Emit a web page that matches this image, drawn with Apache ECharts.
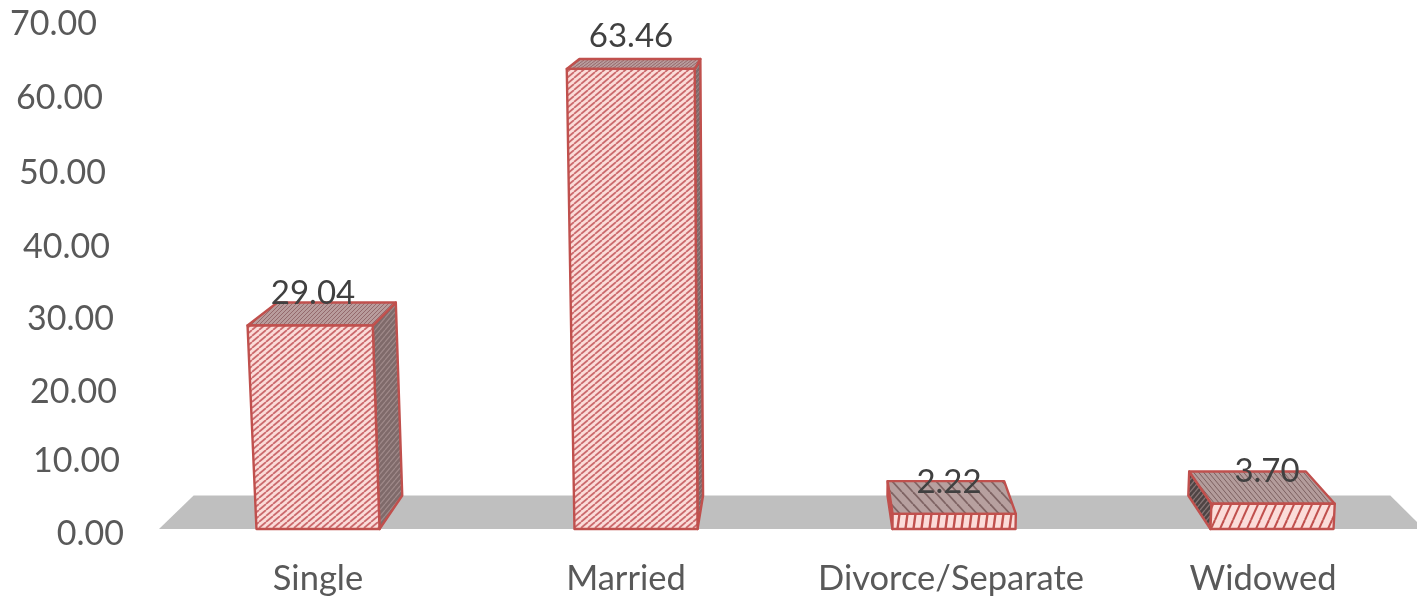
<!DOCTYPE html>
<html><head><meta charset="utf-8">
<style>html,body{margin:0;padding:0;background:#fff}#c{width:1417px;height:596px}</style>
<script src="https://cdn.jsdelivr.net/npm/echarts@6/dist/echarts.min.js"></script>
</head><body><div id="c"></div>
<script>
const categories = ['Single', 'Married', 'Divorce/Separate', 'Widowed'];
const values = [29.04, 63.46, 2.22, 3.70];
const yTicks = [0, 10, 20, 30, 40, 50, 60, 70];

const font = 'Lato, "Open Sans", sans-serif';
const RED = '#c0504d';
const depthVP = [800, -122], depthTx = 0.054, depthTy = 0.0515;
const riseVPx = 770, riseD = 11700;
const yShift = {0:0, 10:4, 20:7, 30:10, 40:14, 50:18, 60:21, 70:27};
const yDrop = {0:2, 10:2, 20:5, 30:5, 40:5, 50:4, 60:1, 70:0};
const catShift = [0, 20, 6, 18];

function tile(w, h, bg, fg, lw, back) {
  const c = document.createElement('canvas');
  c.width = w; c.height = h;
  const g = c.getContext('2d');
  g.fillStyle = bg; g.fillRect(0, 0, w, h);
  g.strokeStyle = fg; g.lineWidth = lw;
  for (let k = -2; k <= 2; k++) {
    g.beginPath();
    if (back) { g.moveTo(k * w, 0); g.lineTo((k + 1) * w, h); }
    else { g.moveTo(k * w, h); g.lineTo((k + 1) * w, 0); }
    g.stroke();
  }
  return {image: c, repeat: 'repeat'};
}
const P_LIGHT = '#fbdcd9', P_LINE = '#cb6a6d';
const facePatterns = [
  {front: tile(7, 6, P_LIGHT, P_LINE, 1.8), top: tile(4, 4, '#b89c9c', '#94696c', 1), side: tile(5, 6, '#7f6a6a', '#a08a8a', 1.2)},
  {front: tile(7, 6, P_LIGHT, P_LINE, 1.8), top: tile(4, 3, '#b89c9c', '#94696c', 1), side: tile(4, 5, '#7f6a6a', '#a08a8a', 1)},
  {front: tile(8, 60, P_LIGHT, RED, 2.4), top: tile(11, 12, '#b7a09f', '#7f6464', 1.8, true), side: tile(3, 8, '#6f5c5c', '#a08a8a', 1)},
  {front: tile(9, 20, P_LIGHT, RED, 2), top: tile(5, 6, '#b39c9b', '#7d6060', 1, true), side: tile(5, 6, '#4f4444', '#857575', 1.4)}
];

function toDepth(p) {
  return [p[0] + (depthVP[0] - p[0]) * depthTx, p[1] + (depthVP[1] - p[1]) * depthTy];
}
function face(points, fill) {
  return {type: 'polygon', shape: {points}, style: {fill, stroke: RED, lineWidth: 2.4, lineJoin: 'round'}};
}

function renderBar(params, api) {
  const i = api.value(0), v = api.value(1);
  const zero = api.coord([i, 0]), peak = api.coord([i, v]);
  const band = api.size([1, 0])[0];
  const half = band * 0.1935;
  const baseY = zero[1] - 3;
  const h = (zero[1] - peak[1]) * (0.937 + 0.00098 * v);
  const lift = x => x - (riseVPx - x) * h / riseD;
  const bl = [zero[0] - half, baseY], br = [zero[0] + half, baseY];
  const tl = [lift(bl[0]), baseY - h], tr = [lift(br[0]), baseY - h];
  const btl = toDepth(tl), btr = toDepth(tr), bbl = toDepth(bl), bbr = toDepth(br);
  const pat = facePatterns[i];
  const children = [];
  if (btr[0] > tr[0]) children.push(face([tr, btr, bbr, br], pat.side));
  if (btl[0] < tl[0]) children.push(face([tl, btl, bbl, bl], pat.side));
  children.push(face([tl, btl, btr, tr], pat.top));
  children.push(face([bl, tl, tr, br], pat.front));
  children.push({
    type: 'text', z2: 100,
    style: {
      x: zero[0] - 5, y: baseY - h - 32, text: v.toFixed(2), fill: '#404040',
      font: '33px ' + font, align: 'center', verticalAlign: 'middle'
    }
  });
  return {type: 'group', children};
}

function renderFloor(params, api) {
  const s = params.coordSys;
  const y = s.y + s.height - 3;
  const l = [s.x, y], r = [s.x + s.width - 7, y];
  return {type: 'polygon', shape: {points: [l, toDepth(l), toDepth(r), r]}, style: {fill: '#bfbfbf'}, silent: true};
}

const rich = {};
yTicks.forEach(t => { rich['t' + t] = {fontSize: 34, fontFamily: font, color: '#595959', padding: [yDrop[t] * 2, yShift[t], 0, 0]}; });

const chart = echarts.init(document.getElementById('c'), null, {renderer: 'canvas'});
chart.setOption({
  animation: false,
  backgroundColor: '#fff',
  grid: {left: 159, width: 1272, top: 24, bottom: 64, containLabel: false, outerBoundsMode: 'none'},
  xAxis: {
    type: 'category',
    data: categories.map((c, i) => ({value: c, textStyle: {padding: [0, catShift[i], 0, 0]}})),
    axisLine: {show: false}, axisTick: {show: false},
    axisLabel: {fontSize: 34.5, fontFamily: font, color: '#595959', margin: 29, interval: 0}
  },
  yAxis: {
    type: 'value', min: 0, max: 70, interval: 10,
    axisLine: {show: false}, axisTick: {show: false}, splitLine: {show: false},
    axisLabel: {margin: 35, formatter: v => `{t${v}|${v.toFixed(2)}}`, rich}
  },
  series: [
    {type: 'custom', renderItem: renderFloor, data: [[0, 0]], encode: {x: 0, y: 1}, z: 1, silent: true},
    {type: 'custom', renderItem: renderBar, data: values.map((v, i) => [i, v]), encode: {x: 0, y: 1}, z: 2, silent: true}
  ]
});
</script></body></html>
